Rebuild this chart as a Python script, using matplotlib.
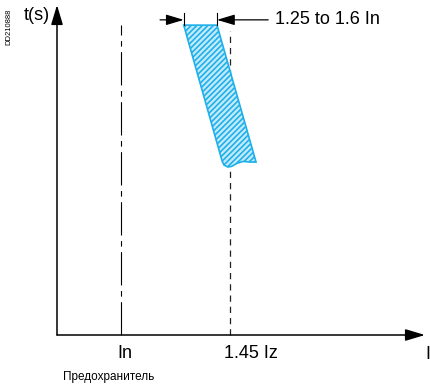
#!/usr/bin/env python3
"""
Fuse characteristic sketch: time-current band of a fuse vs In and 1.45 Iz.
"""

import matplotlib.pyplot as plt

plt.rcParams["font.family"] = ["Liberation Sans", "DejaVu Sans"]
plt.rcParams["hatch.linewidth"] = 1.2

# Schematic units: In = 1 on the current axis, time axis 0..10
I_N = 1.0
I_Z145 = 2.70
X_END = 5.75
Y_END = 10.0

# Fuse operating band (outline)
band_x = [1.98, 2.50, 3.11, 3.02, 2.91, 2.81, 2.73, 2.67, 2.61, 2.58, 1.98]
band_y = [9.39, 9.39, 5.24, 5.24, 5.26, 5.20, 5.11, 5.09, 5.15, 5.27, 9.39]

# Dimension "1.25 to 1.6 In" marks on top of the band
dim_left = 1.98
dim_right = 2.50
dim_y = 9.55

x_labels = ["In", "1.45 Iz"]
x_label_pos = [I_N, I_Z145]

BLUE = "#1fb0ea"
LIGHT = "#c3eafa"

fig = plt.figure(figsize=(4.3, 3.85), dpi=100)
ax = fig.add_axes([0, 0, 1, 1])
# map data units onto the figure pixels (origin at px 57, 335)
ax.set_xlim((0 - 57) / 64, (430 - 57) / 64)
ax.set_ylim((335 - 385) / 33, 335 / 33)
ax.axis("off")

arrow = "-|>,head_length=0.6,head_width=0.18"

# axes with arrows
ax.annotate("", xy=(X_END, 0), xytext=(0, 0),
            arrowprops=dict(arrowstyle=arrow, mutation_scale=20, color="black",
                            lw=1.1, shrinkA=0, shrinkB=0))
ax.annotate("", xy=(0, Y_END), xytext=(0, 0),
            arrowprops=dict(arrowstyle=arrow, mutation_scale=20, color="black",
                            lw=1.1, shrinkA=0, shrinkB=0))

# In (dash-dot) and 1.45 Iz (dashed) verticals
ax.plot([I_N, I_N], [0, 9.39], color="black", lw=0.8,
        linestyle=(0, (30, 5, 5, 5)))
ax.plot([I_Z145, I_Z145], [0, 9.2], color="#222222", lw=0.9,
        linestyle=(0, (5, 4)))

# band
ax.fill(band_x, band_y, facecolor=LIGHT, edgecolor=BLUE, hatch="//////",
        lw=1.2, zorder=3)

# dimension ticks and arrows
for xv in [dim_left, dim_right]:
    ax.plot([xv, xv], [9.39, 9.76], color="black", lw=0.8, zorder=4)
ax.annotate("", xy=(dim_left, dim_y), xytext=(1.61, dim_y),
            arrowprops=dict(arrowstyle=arrow, mutation_scale=18, color="black",
                            lw=0.9, shrinkA=0, shrinkB=0))
ax.annotate("", xy=(dim_right, dim_y), xytext=(3.30, dim_y),
            arrowprops=dict(arrowstyle=arrow, mutation_scale=18, color="black",
                            lw=0.9, shrinkA=0, shrinkB=0))
ax.text(3.41, dim_y, "1.25 to 1.6 In", fontsize=13, va="center", ha="left")

# labels
offsets = [-0.05, -0.09]
for pos, lab, off in zip(x_label_pos, x_labels, offsets):
    ax.text(pos + off, -0.55, lab, fontsize=13, va="center", ha="left")
ax.text(0.81, -1.27, "Предохранитель", fontsize=8.5, va="center", ha="center")
ax.text(5.76, -0.6, "I", fontsize=13, va="center", ha="left")
ax.text(-0.11, 9.68, "t(s)", fontsize=13, va="center", ha="right")
ax.text(-0.75, 9.33, "DD210888", fontsize=5.5, rotation=90,
        va="center", ha="center")

fig.savefig("out.png", dpi=100)
